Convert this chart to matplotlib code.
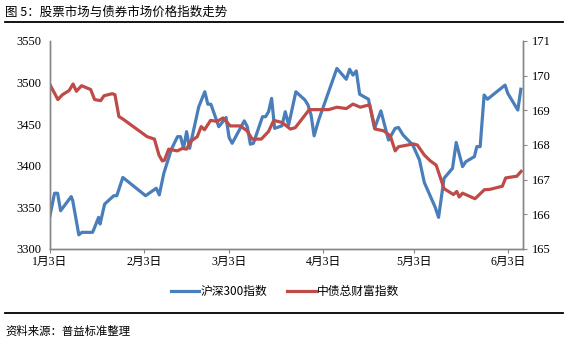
import pandas as pd
import matplotlib
matplotlib.use("Agg")
import matplotlib.pyplot as plt
import matplotlib.dates as mdates
from matplotlib.lines import Line2D
from matplotlib.ticker import FuncFormatter

plt.rcParams['font.family'] = ['Liberation Serif', 'Noto Sans CJK SC', 'DejaVu Sans']
cjk = ['Noto Sans CJK SC', 'DejaVu Sans']

start = pd.Timestamp('2017-01-03')

# 沪深300指数 (左轴)  -- days since 1月3日, value
hs300_days = [0, 1.5, 2.5, 3.5, 7, 7.5, 9.5, 10.5, 14, 14.5, 16, 16.5, 18, 21, 22, 24,
              31.5, 35, 36, 37.5, 40, 42, 43, 44, 45, 46, 49, 51, 52, 53, 55.6, 58, 59, 60,
              64, 65, 66, 67, 70, 71, 72, 73, 74, 76.4, 77.5, 78.6, 81, 84, 85, 86, 87, 88.5,
              94.5, 97.6, 98.7, 99.8, 100.9, 102, 104.9, 106.9, 109, 111.5, 113.7, 114.8,
              116.3, 119.5, 121.7, 123.3, 126.9, 128, 129.8, 132.6, 133.8, 135.9, 137,
              139.8, 140.6, 141.7, 143, 144.1, 149.9, 150.8, 154.1, 155.1]
hs300_vals = [3340, 3367, 3367, 3346, 3363, 3358, 3317, 3320, 3320, 3324, 3338, 3330, 3354,
              3364, 3364, 3386, 3364, 3373, 3365, 3391, 3420, 3435, 3435, 3421, 3441, 3421,
              3471, 3489, 3474, 3474, 3447, 3458, 3434, 3427, 3454, 3447, 3426, 3427, 3459,
              3459, 3465, 3481, 3445, 3448, 3465, 3449, 3489, 3479, 3473, 3461, 3436, 3455,
              3517, 3504, 3516, 3509, 3514, 3486, 3480, 3445, 3466, 3431, 3445, 3446, 3437,
              3425, 3407, 3380, 3350, 3338, 3385, 3397, 3428, 3399, 3405, 3411, 3423, 3423,
              3485, 3480, 3497, 3487, 3467, 3492]

# 中债总财富指数 (右轴)
bond_days = [0, 2.6, 4.1, 6.3, 7.6, 8.7, 10.4, 13.4, 14.7, 16.7, 17.8, 20.5, 21.4, 22.7, 24,
             32, 34.4, 35.9, 37, 37.7, 39.1, 41.9, 43.6, 45, 46.3, 48.5, 49.8, 50.9, 52.9,
             55.1, 57, 59.4, 62.7, 64.9, 66.6, 69.6, 72, 73.7, 76.4, 79.2, 80.8, 85.4, 91.8,
             94.5, 97.6, 99.8, 102.2, 105.3, 107.1, 108.2, 109.9, 112.1, 113.7, 114.8, 119.7,
             121, 123.3, 125.3, 127.2, 129.8, 132.9, 134, 134.8, 135.9, 140, 143.1, 144.9,
             149, 150.1, 153.8, 155.2]
bond_vals = [169.74, 169.31, 169.45, 169.57, 169.76, 169.55, 169.71, 169.60, 169.31, 169.28,
             169.42, 169.48, 169.45, 168.82, 168.75, 168.24, 168.17, 167.71, 167.54, 167.56,
             167.88, 167.83, 167.90, 167.88, 168.10, 168.24, 168.53, 168.44, 168.71, 168.68,
             168.78, 168.55, 168.55, 168.41, 168.17, 168.17, 168.39, 168.71, 168.65, 168.46,
             168.50, 169.02, 169.02, 169.09, 169.05, 169.18, 169.09, 169.16, 168.46, 168.44,
             168.41, 168.26, 167.83, 167.95, 168.03, 168.00, 167.71, 167.54, 167.42, 166.74,
             166.57, 166.66, 166.50, 166.61, 166.45, 166.71, 166.72, 166.81, 167.05, 167.10,
             167.24]

title = "图 5：股票市场与债券市场价格指数走势"
source = "资料来源：普益标准整理"
labels = ["沪深300指数", "中债总财富指数"]

blue = '#4A7EBB'
red = '#BE4B48'
grey = '#868686'

hs_x = start + pd.to_timedelta(hs300_days, unit='D')
bd_x = start + pd.to_timedelta(bond_days, unit='D')

fig = plt.figure(figsize=(5.68, 3.45), dpi=100)
ax = fig.add_axes([0.088, 0.2783, 0.8322, 0.6029])
ax2 = ax.twinx()

l1, = ax.plot(hs_x, hs300_vals, color=blue, lw=2.3, solid_joinstyle='round')
l2, = ax2.plot(bd_x, bond_vals, color=red, lw=2.3, solid_joinstyle='round')

ax.set_ylim(3300, 3550)
ax.set_yticks(range(3300, 3551, 50))
ax2.set_ylim(165, 171)
ax2.set_yticks(range(165, 172))
ax.set_xlim(start, start + pd.Timedelta(days=155.7))

ax.xaxis.set_major_locator(mdates.MonthLocator(bymonthday=3))
ax.xaxis.set_major_formatter(FuncFormatter(
    lambda v, p: f"{mdates.num2date(v).month}月{mdates.num2date(v).day}日"))

for a in (ax, ax2):
    a.spines['top'].set_visible(False)
    for s in ('left', 'right', 'bottom'):
        a.spines[s].set_color(grey)
        a.spines[s].set_linewidth(1.0)
ax.tick_params(axis='y', length=0, labelsize=9, pad=6)
ax.tick_params(axis='x', length=3, color=grey, labelsize=8.5, pad=2)
ax2.tick_params(axis='y', length=3, color=grey, labelsize=9, pad=4)
for t in ax.get_xticklabels():
    t.set_family(['Liberation Serif', 'Noto Sans CJK SC'])

fig.text(0.009, 0.965, title, family=cjk, fontsize=9, va='center', ha='left')
fig.add_artist(Line2D([0.009, 0.991], [0.935, 0.935], color='black', lw=1.3))
fig.add_artist(Line2D([0.009, 0.991], [0.093, 0.093], color='black', lw=1.3))
fig.text(0.009, 0.04, source, family=cjk, fontsize=8.2, va='center', ha='left')

fig.legend([l1, l2], labels, loc='center', bbox_to_anchor=(0.502, 0.156), ncol=2,
           frameon=False, prop={'family': cjk, 'size': 8.5}, handlelength=2.4,
           handletextpad=0.1, columnspacing=1.7)

fig.savefig('out.png', dpi=100)
